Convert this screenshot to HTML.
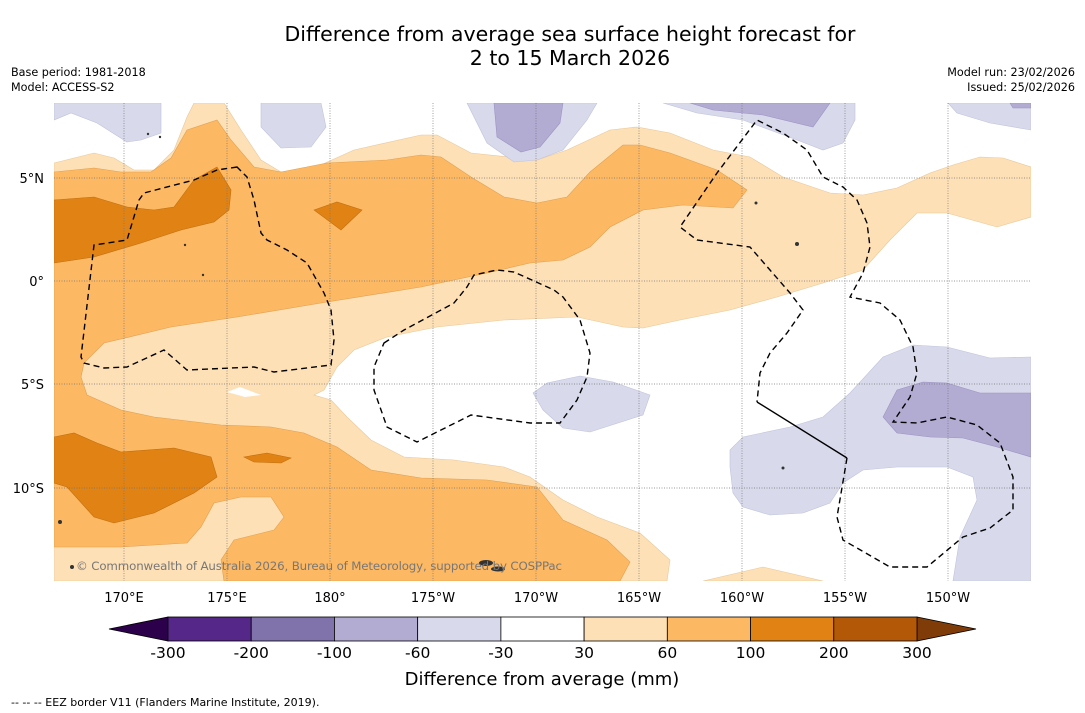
<!DOCTYPE html>
<html><head><meta charset="utf-8"><style>
body{margin:0;background:#fff;font-family:"DejaVu Sans",sans-serif;}
#wrap{position:relative;width:1085px;height:713px;overflow:hidden;background:#fff;}
.t{position:absolute;white-space:nowrap;color:#000;}
</style></head><body>
<div id="wrap">
<div class="t" style="left:0;width:1140px;text-align:center;top:22px;font-size:20.5px;line-height:24px;">Difference from average sea surface height forecast for<br>2 to 15 March 2026</div>
<div class="t" style="left:11px;top:65px;font-size:11.2px;line-height:15px;">Base period: 1981-2018<br>Model: ACCESS-S2</div>
<div class="t" style="right:10px;top:65px;font-size:11.2px;line-height:15px;text-align:right;">Model run: 23/02/2026<br>Issued: 25/02/2026</div>

<svg width="1085" height="713" style="position:absolute;left:0;top:0">
<defs><clipPath id="mc"><rect x="54" y="103" width="977" height="478"/></clipPath></defs>
<g clip-path="url(#mc)">
<rect x="54" y="103" width="977" height="478" fill="#fff"/>
<g fill="#fee0b6" stroke="#e8c89a" stroke-width="0.6">
<path d="M54,163 L94,153 L114,158 L134,170 L154,170 L174,150 L187,117 L194,103 L224,103 L241,130 L261,160 L281,172 L314,168 L354,150 L421,135 L437,135 L471,153 L537,160 L567,150 L610,130 L637,127 L670,133 L713,150 L750,157 L783,177 L830,193 L863,195 L897,188 L930,173 L953,165 L980,157 L1003,158 L1031,167 L1031,217 L997,227 L947,213 L917,213 L890,240 L863,270 L823,283 L777,297 L730,310 L680,320 L643,328 L623,327 L577,317 L504,320 L437,327 L387,337 L354,350 L337,367 L324,390 L314,395 L331,400 L347,417 L371,440 L404,457 L454,460 L504,467 L530,477 L563,500 L597,517 L640,533 L670,560 L667,581 L54,581 Z"/>
<path d="M703,581 L763,567 L823,581 Z"/>
</g>
<path fill="#fff" d="M227,392 L240,387 L261,395 L245,397 Z"/>
<g fill="#fdb863" stroke="#e0a050" stroke-width="0.6">
<path d="M54,172 L94,168 L121,172 L151,172 L171,158 L187,130 L217,120 L231,140 L254,167 L281,172 L327,163 L387,160 L421,155 L441,157 L471,177 L504,197 L537,203 L567,197 L590,172 L623,145 L640,145 L670,153 L717,170 L747,190 L733,208 L683,205 L643,210 L610,227 L590,247 L563,260 L530,263 L487,273 L421,287 L321,303 L237,317 L171,327 L104,343 L84,363 L81,377 L87,395 L121,410 L154,417 L221,425 L271,427 L304,433 L337,447 L371,470 L421,478 L487,480 L537,487 L563,520 L607,540 L630,562 L620,581 L224,581 L221,560 L234,540 L274,530 L284,517 L271,497 L241,497 L214,503 L201,527 L187,543 L121,547 L54,547 Z"/>
</g>
<g fill="#e08214" stroke="#c07010" stroke-width="0.6">
<path d="M54,200 L94,197 L127,207 L154,210 L174,207 L194,180 L217,167 L231,190 L229,210 L214,222 L181,230 L141,243 L94,257 L54,263 Z"/>
<path d="M314,210 L337,202 L362,210 L341,230 Z"/>
<path d="M54,437 L74,433 L97,443 L121,452 L174,448 L211,457 L217,477 L194,493 L154,513 L114,523 L94,517 L67,487 L54,483 Z"/>
<path d="M244,457 L267,453 L291,458 L281,463 L254,462 Z"/>
</g>
<g fill="#d8daeb" stroke="#c0c2dc" stroke-width="0.6">
<path d="M54,103 L161,103 L161,133 L141,140 L127,142 L97,123 L71,113 L54,120 Z"/>
<path d="M261,103 L321,103 L326,127 L311,147 L281,148 L261,127 Z"/>
<path d="M467,103 L597,103 L587,120 L563,150 L537,160 L514,162 L487,143 Z"/>
<path d="M663,103 L855,103 L855,120 L843,143 L823,150 L797,140 L743,120 L697,113 Z"/>
<path d="M948,103 L1031,103 L1031,130 L990,123 L957,113 Z"/>
<path d="M533,393 L547,383 L580,376 L613,382 L650,395 L643,415 L590,432 L563,428 L543,410 Z"/>
<path d="M730,450 L743,437 L790,427 L823,417 L850,393 L883,357 L913,345 L947,347 L990,358 L1031,357 L1031,581 L953,581 L960,537 L977,500 L973,477 L947,467 L897,467 L863,470 L843,483 L830,503 L803,513 L770,515 L743,507 L733,493 L730,467 Z"/>
</g>
<g fill="#b2abd2" stroke="#9c94c2" stroke-width="0.6">
<path d="M494,103 L563,103 L560,123 L540,147 L521,152 L497,137 Z"/>
<path d="M690,103 L830,103 L813,127 L763,115 L713,110 Z"/>
<path d="M1010,103 L1031,103 L1031,108 L1013,108 Z"/>
<path d="M883,417 L897,390 L923,382 L947,383 L980,393 L1031,393 L1031,457 L997,447 L963,438 L930,437 L897,433 Z"/>
</g>
<g stroke="#777" stroke-width="0.7" stroke-dasharray="1,1.5">
<line x1="124" y1="103" x2="124" y2="581"/><line x1="227" y1="103" x2="227" y2="581"/><line x1="330" y1="103" x2="330" y2="581"/><line x1="433" y1="103" x2="433" y2="581"/><line x1="536" y1="103" x2="536" y2="581"/><line x1="639" y1="103" x2="639" y2="581"/><line x1="742" y1="103" x2="742" y2="581"/><line x1="845" y1="103" x2="845" y2="581"/><line x1="948" y1="103" x2="948" y2="581"/>
<line x1="54" y1="178" x2="1031" y2="178"/><line x1="54" y1="281" x2="1031" y2="281"/><line x1="54" y1="384" x2="1031" y2="384"/><line x1="54" y1="488" x2="1031" y2="488"/>
</g>
<g fill="none" stroke="#000" stroke-width="1.4" stroke-dasharray="6,4">
<path d="M237,167 L217,170 L194,180 L144,193 L139,200 L127,240 L94,245 L81,357 L84,363 L104,368 L127,367 L164,350 L187,370 L254,367 L274,372 L331,365 L334,340 L331,310 L324,293 L307,263 L287,250 L267,240 L261,233 L254,200 L247,177 Z"/>
<path d="M384,343 L404,330 L454,303 L467,287 L474,275 L497,270 L514,272 L554,290 L563,297 L580,320 L590,353 L587,377 L577,400 L560,423 L530,423 L471,415 L417,442 L387,427 L374,390 L374,367 Z"/>
<path d="M847,458 L837,517 L843,540 L890,567 L927,567 L963,537 L990,528 L1013,510 L1013,477 L1000,443 L977,425 L947,417 L917,423 L893,422 L910,397 L917,373 L913,347 L900,320 L880,303 L850,297 L863,273 L870,247 L867,223 L857,200 L843,187 L823,177 L807,150 L783,133 L757,120 L717,173 L680,227 L697,240 L750,247 L770,270 L790,293 L803,310 L787,333 L770,353 L760,373 L757,402"/>
</g>
<path d="M757,402 L847,458" stroke="#000" stroke-width="1.4" fill="none"/>
<g fill="#333">
<ellipse cx="486" cy="563" rx="7" ry="3"/><ellipse cx="498" cy="569" rx="7" ry="2.5"/>
<circle cx="60" cy="522" r="2"/><circle cx="72" cy="567" r="2"/><circle cx="797" cy="244" r="2"/><circle cx="756" cy="203" r="1.5"/><circle cx="783" cy="468" r="1.5"/><circle cx="185" cy="245" r="1.2"/><circle cx="203" cy="275" r="1.2"/><circle cx="148" cy="134" r="1.2"/><circle cx="160" cy="137" r="1.2"/>
</g>
<text x="76" y="570" font-size="11.8" fill="#777" font-family="DejaVu Sans, sans-serif" textLength="486">© Commonwealth of Australia 2026, Bureau of Meteorology, supported by COSPPac</text>
</g>
<g font-size="13" text-anchor="middle" font-family="DejaVu Sans, sans-serif">
<text x="124" y="602">170°E</text><text x="227" y="602">175°E</text><text x="330" y="602">180°</text><text x="433" y="602">175°W</text><text x="536" y="602">170°W</text><text x="639" y="602">165°W</text><text x="742" y="602">160°W</text><text x="845" y="602">155°W</text><text x="948" y="602">150°W</text>
</g>
<g font-size="13" text-anchor="end" font-family="DejaVu Sans, sans-serif">
<text x="44" y="183">5°N</text><text x="44" y="286">0°</text><text x="44" y="389">5°S</text><text x="44" y="493">10°S</text>
</g>
<g id="cbar"></g>
<text x="542" y="685" font-size="18" text-anchor="middle" font-family="DejaVu Sans, sans-serif">Difference from average (mm)</text>
<text x="11" y="706" font-size="11" font-family="DejaVu Sans, sans-serif">--  --  -- EEZ border V11 (Flanders Marine Institute, 2019).</text>
</svg>
</div>
<script>
const levels=["-300","-200","-100","-60","-30","30","60","100","200","300"];
const colors=["#542788","#8073ac","#b2abd2","#d8daeb","#ffffff","#fee0b6","#fdb863","#e08214","#b35806"];
const extendColors=["#2d004b","#7f3b08"];
const NS="http://www.w3.org/2000/svg";
const g=document.getElementById('cbar');
const x0=168,x1=917,y0=617,h=24,w=(x1-x0)/colors.length;
function mk(t,a){const e=document.createElementNS(NS,t);for(const k in a)e.setAttribute(k,a[k]);g.appendChild(e);return e;}
const lt=mk('polygon',{points:`${x0},${y0} ${x0},${y0+h} 109,${y0+h/2}`,fill:extendColors[0],stroke:'#000','stroke-width':0.8});


const rt=mk('polygon',{points:`${x1},${y0} ${x1},${y0+h} 976,${y0+h/2}`,fill:extendColors[1],stroke:'#000','stroke-width':0.8});


colors.forEach((c,i)=>{
 const r=mk('rect',{x:x0+i*w,y:y0,width:w,height:h,fill:c,stroke:'#000','stroke-width':0.8});
 
 
});
levels.forEach((l,i)=>{
 const t=mk('text',{x:x0+i*w,y:658,'font-size':15.5,'text-anchor':'middle','font-family':'DejaVu Sans, sans-serif'});
 t.textContent=l;
 
 
});
</script>
</body></html>
